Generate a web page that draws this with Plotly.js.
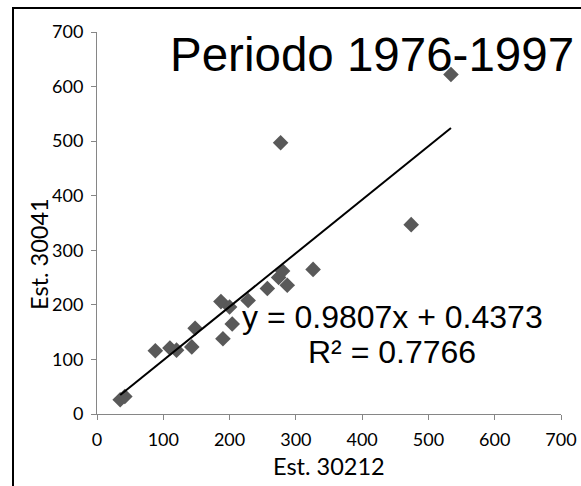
<!DOCTYPE html>
<html>
<head>
<meta charset="utf-8">
<script src="https://cdn.plot.ly/plotly-3.0.1.min.js"></script>
<style>html,body{margin:0;padding:0;background:#fff;}#chart{width:581px;height:486px;}</style>
</head>
<body>
<div id="chart"></div>
<script>
// Data
const est30212 = [35, 42, 88, 110, 120, 143, 148, 187, 200, 190, 204, 228, 257, 274, 280, 287, 326, 277, 474, 534];
const est30041 = [26, 32, 116, 121, 117, 123, 157, 206, 196, 138, 165, 208, 230, 250, 262, 236, 265, 497, 347, 622];
const trendSlope = 0.9807;
const trendIntercept = 0.4373;
const rSquared = 0.7766;
const tickValues = [0, 100, 200, 300, 400, 500, 600, 700];
const chartTitle = 'Periodo 1976-1997';
const xTitle = 'Est. 30212';
const yTitle = 'Est. 30041';

const xMin = Math.min(...est30212), xMax = Math.max(...est30212);
const trendX = [xMin, xMax];
const trendY = trendX.map(v => trendSlope * v + trendIntercept);

const W = 581, H = 486;
const L = 97, R = 20, T = 32, B = 72;
const pw = W - L - R, ph = H - T - B;
const px = x => (x - L) / pw;
const py = y => (H - B - y) / ph;

const tickFont = {family: 'Lato, sans-serif', size: 18, color: '#000'};
const axisCommon = {
  range: [0, 700], tickvals: tickValues, ticktext: tickValues.map(String),
  showgrid: false, zeroline: false, showline: true, linecolor: '#868686', linewidth: 1,
  ticks: 'outside', ticklen: 5, tickcolor: '#868686', tickwidth: 1,
  tickfont: tickFont, fixedrange: true, ticklabelstandoff: 4
};

const data = [
  {x: est30212, y: est30041, type: 'scatter', mode: 'markers',
   marker: {symbol: 'diamond', size: 12, color: '#595959', line: {width: 0}},
   showlegend: false, hoverinfo: 'x+y'},
  {x: trendX, y: trendY, type: 'scatter', mode: 'lines',
   line: {color: '#000', width: 2}, showlegend: false, hoverinfo: 'skip'}
];

const arial = 'Liberation Sans, Arial, sans-serif';
const layout = {
  width: W, height: H,
  margin: {l: L, r: R, t: T, b: B, pad: 0},
  paper_bgcolor: '#fff', plot_bgcolor: '#fff',
  xaxis: Object.assign({}, axisCommon),
  yaxis: Object.assign({}, axisCommon),
  annotations: [
    {text: chartTitle, xref: 'paper', yref: 'paper', x: px(576), y: py(55),
     xanchor: 'right', yanchor: 'middle', showarrow: false,
     font: {family: arial, size: 47.5, color: '#000'}},
    {text: 'y = ' + trendSlope + 'x + ' + trendIntercept,
     xref: 'paper', yref: 'paper', x: px(392), y: py(317),
     xanchor: 'center', yanchor: 'middle', showarrow: false,
     font: {family: arial, size: 32, color: '#000'}},
    {text: 'R² = ' + rSquared,
     xref: 'paper', yref: 'paper', x: px(392), y: py(352),
     xanchor: 'center', yanchor: 'middle', showarrow: false,
     font: {family: arial, size: 32, color: '#000'}},
    {text: xTitle, xref: 'paper', yref: 'paper', x: 0.5, y: py(466),
     xanchor: 'center', yanchor: 'middle', showarrow: false,
     font: {family: 'Lato, sans-serif', size: 23.5, color: '#000'}},
    {text: yTitle, xref: 'paper', yref: 'paper', x: px(39), y: py(254),
     xanchor: 'center', yanchor: 'middle', textangle: -90, showarrow: false,
     font: {family: 'Lato, sans-serif', size: 23.5, color: '#000'}}
  ],
  shapes: [
    {type: 'rect', xref: 'paper', yref: 'paper', x0: px(13), x1: px(600), y0: py(510), y1: py(8),
     line: {color: '#000', width: 2}, fillcolor: 'rgba(0,0,0,0)', layer: 'above'}
  ]
};

Plotly.newPlot('chart', data, layout, {displayModeBar: false, staticPlot: true});
</script>
</body>
</html>
